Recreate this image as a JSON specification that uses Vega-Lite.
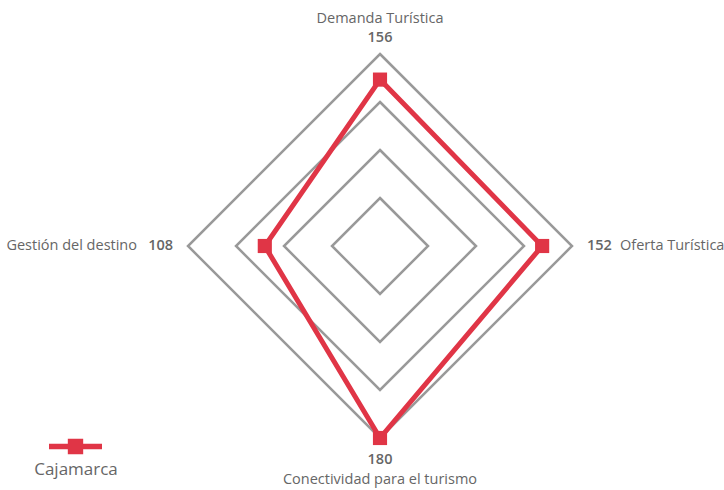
{
  "$schema": "https://vega.github.io/schema/vega-lite/v6.json",
  "width": 724,
  "height": 490,
  "padding": 0,
  "autosize": {"type": "none"},
  "config": {"view": {"stroke": null}, "font": "Open Sans"},
  "datasets": {
    "series": [
      {"dimension": "Demanda Turística", "k": 0, "value": 156, "series": "Cajamarca"},
      {"dimension": "Oferta Turística", "k": 1, "value": 152, "series": "Cajamarca"},
      {"dimension": "Conectividad para el turismo", "k": 2, "value": 180, "series": "Cajamarca"},
      {"dimension": "Gestión del destino", "k": 3, "value": 108, "series": "Cajamarca"}
    ],
    "grid": [
      {"level": 45, "k": [0, 1, 2, 3]},
      {"level": 90, "k": [0, 1, 2, 3]},
      {"level": 135, "k": [0, 1, 2, 3]},
      {"level": 180, "k": [0, 1, 2, 3]}
    ]
  },
  "encoding": {
    "x": {"field": "px", "type": "quantitative", "axis": null, "scale": {"domain": [-356.25, 322.5], "nice": false, "zero": false}},
    "y": {"field": "py", "type": "quantitative", "axis": null, "scale": {"domain": [-228.75, 230.625], "nice": false, "zero": false}}
  },
  "layer": [
    {
      "data": {"name": "grid"},
      "transform": [
        {"flatten": ["k"]},
        {"calculate": "PI/2 - datum.k*PI/2", "as": "ang"},
        {"calculate": "datum.level*cos(datum.ang)", "as": "px"},
        {"calculate": "datum.level*sin(datum.ang)", "as": "py"}
      ],
      "mark": {"type": "line", "interpolate": "linear-closed", "stroke": "#999999", "strokeWidth": 2.5},
      "encoding": {
        "detail": {"field": "level", "type": "nominal"},
        "order": {"field": "k", "type": "quantitative"}
      }
    },
    {
      "data": {"name": "series"},
      "transform": [
        {"calculate": "PI/2 - datum.k*PI/2", "as": "ang"},
        {"calculate": "datum.value*cos(datum.ang)", "as": "px"},
        {"calculate": "datum.value*sin(datum.ang)", "as": "py"}
      ],
      "layer": [
        {
          "mark": {"type": "line", "interpolate": "linear-closed", "strokeWidth": 5},
          "encoding": {
            "order": {"field": "k", "type": "quantitative"},
            "color": {
              "field": "series", "type": "nominal",
              "scale": {"range": ["#E03546"]},
              "legend": {
                "orient": "none", "legendX": 34, "legendY": 420,
                "title": "Cajamarca", "titleOrient": "bottom", "titleAnchor": "middle", "titleAlign": "center",
                "titleFontSize": 17, "titleFontWeight": 500, "titleColor": "#666666", "titlePadding": 8,
                "labelExpr": "''", "labelOffset": 0, "padding": 0,
                "symbolType": "M-1,-0.1H1V0.1H-1Z M-0.29,-0.29H0.29V0.29H-0.29Z",
                "symbolSize": 2809, "symbolFillColor": "#E03546", "symbolStrokeWidth": 0, "symbolOpacity": 1
              }
            }
          }
        },
        {
          "mark": {"type": "point", "shape": "square", "filled": true, "size": 200, "opacity": 1},
          "encoding": {"color": {"field": "series", "type": "nominal"}}
        }
      ]
    },
    {
      "data": {"name": "series"},
      "transform": [
        {"calculate": "PI/2 - datum.k*PI/2", "as": "ang"},
        {"calculate": "180*cos(datum.ang)", "as": "px"},
        {"calculate": "180*sin(datum.ang)", "as": "py"},
        {"calculate": "'' + datum.value", "as": "vlabel"}
      ],
      "layer": [
        {"transform": [{"filter": "datum.k == 0"}], "mark": {"type": "text", "align": "center", "baseline": "middle", "dy": -35, "fontSize": 14.5, "fontWeight": 500, "fill": "#666666"}, "encoding": {"text": {"field": "dimension"}}},
        {"transform": [{"filter": "datum.k == 0"}], "mark": {"type": "text", "align": "center", "baseline": "middle", "dy": -16, "fontSize": 14.5, "fontWeight": 600, "fill": "#666666"}, "encoding": {"text": {"field": "vlabel"}}},
        {"transform": [{"filter": "datum.k == 1"}], "mark": {"type": "text", "align": "left", "baseline": "middle", "dx": 15, "fontSize": 14.5, "fontWeight": 600, "fill": "#666666"}, "encoding": {"text": {"field": "vlabel"}}},
        {"transform": [{"filter": "datum.k == 1"}], "mark": {"type": "text", "align": "left", "baseline": "middle", "dx": 48, "fontSize": 14.5, "fontWeight": 500, "fill": "#666666"}, "encoding": {"text": {"field": "dimension"}}},
        {"transform": [{"filter": "datum.k == 2"}], "mark": {"type": "text", "align": "center", "baseline": "middle", "dy": 22, "fontSize": 14.5, "fontWeight": 600, "fill": "#666666"}, "encoding": {"text": {"field": "vlabel"}}},
        {"transform": [{"filter": "datum.k == 2"}], "mark": {"type": "text", "align": "center", "baseline": "middle", "dy": 42, "fontSize": 14.5, "fontWeight": 500, "fill": "#666666"}, "encoding": {"text": {"field": "dimension"}}},
        {"transform": [{"filter": "datum.k == 3"}], "mark": {"type": "text", "align": "right", "baseline": "middle", "dx": -15, "fontSize": 14.5, "fontWeight": 600, "fill": "#666666"}, "encoding": {"text": {"field": "vlabel"}}},
        {"transform": [{"filter": "datum.k == 3"}], "mark": {"type": "text", "align": "right", "baseline": "middle", "dx": -51, "fontSize": 14.5, "fontWeight": 500, "fill": "#666666"}, "encoding": {"text": {"field": "dimension"}}}
      ]
    }
  ]
}
